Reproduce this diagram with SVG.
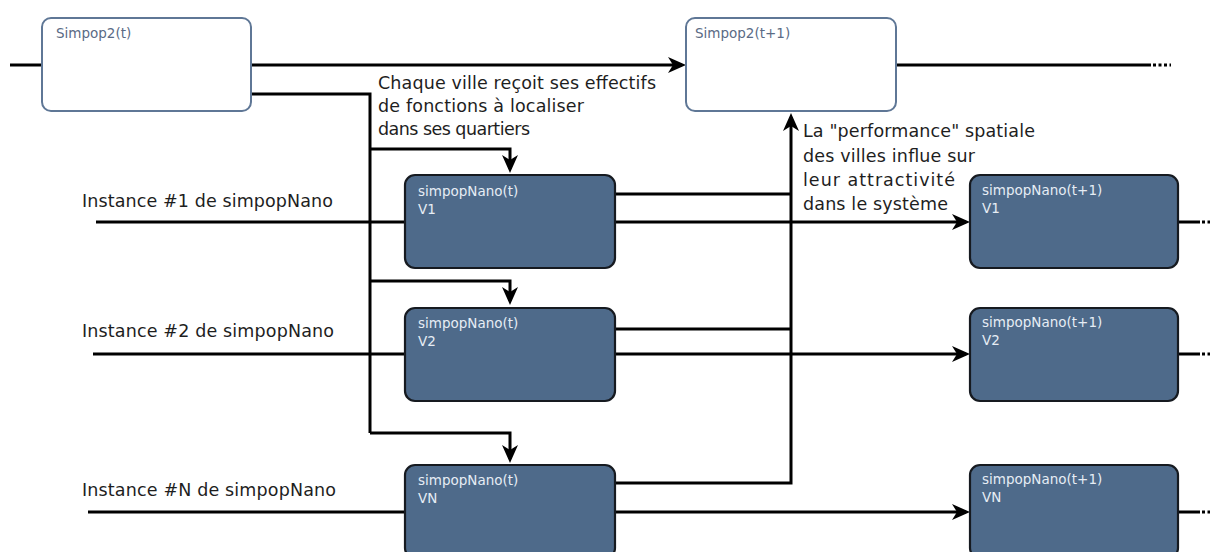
<svg xmlns="http://www.w3.org/2000/svg" width="1210" height="552" viewBox="0 0 1210 552">
<style>
.wbox{fill:#ffffff;stroke:#5f7796;stroke-width:2}
.dbox{fill:#4e6a8a;stroke:#161a20;stroke-width:2.2}
.wlbl{font-family:"DejaVu Sans",sans-serif;font-size:13.5px;fill:#5a6b85}
.dlbl{font-family:"DejaVu Sans",sans-serif;font-size:13.5px;fill:#e6edf5}
.txt{font-family:"DejaVu Sans",sans-serif;font-size:17.5px;fill:#1e1e1e}
.ln{fill:none;stroke:#000;stroke-width:3}
.dots{fill:none;stroke:#000;stroke-width:3;stroke-dasharray:3 2.5}
</style>
<defs>
<marker id="ah" markerUnits="userSpaceOnUse" viewBox="0 0 18 16" refX="14" refY="8" markerWidth="18" markerHeight="16" orient="auto">
<path d="M0,0 L18,8 L0,16 L5,8 z" fill="#000"/>
</marker>
</defs>
<rect width="1210" height="552" fill="#fff"/>

<g id="connectors">
<path class="ln" d="M10,65 H42"/>
<path class="ln" d="M251,65 H682" marker-end="url(#ah)"/>
<path class="ln" d="M896,65 H1151"/>
<path class="dots" d="M1153,65 H1171"/>
<path class="ln" d="M251,94 H370 V433"/>
<path class="ln" d="M370,149 H510 V169" marker-end="url(#ah)"/>
<path class="ln" d="M370,281 H510 V301" marker-end="url(#ah)"/>
<path class="ln" d="M370,433 H510 V459" marker-end="url(#ah)"/>
<path class="ln" d="M96,222 H405"/>
<path class="ln" d="M93,354 H405"/>
<path class="ln" d="M88,512 H405"/>
<path class="ln" d="M615,194 H791"/>
<path class="ln" d="M615,329 H791"/>
<path class="ln" d="M615,483 H791 V117" marker-end="url(#ah)"/>
<path class="ln" d="M615,222 H966" marker-end="url(#ah)"/>
<path class="ln" d="M615,354 H966" marker-end="url(#ah)"/>
<path class="ln" d="M615,512 H966" marker-end="url(#ah)"/>
<path class="ln" d="M1178,222 H1200"/>
<path class="dots" d="M1202,222 H1210"/>
<path class="ln" d="M1178,354 H1200"/>
<path class="dots" d="M1202,354 H1210"/>
<path class="ln" d="M1178,512 H1200"/>
<path class="dots" d="M1202,512 H1210"/>
</g>

<g id="simpop2-t">
<rect class="wbox" x="42" y="18" width="209" height="93" rx="9"/>
<text class="wlbl" x="56" y="38">Simpop2(t)</text>
</g>
<g id="simpop2-t1">
<rect class="wbox" x="686" y="18" width="210" height="93" rx="9"/>
<text class="wlbl" x="695" y="38">Simpop2(t+1)</text>
</g>

<g id="nano-t-v1">
<rect class="dbox" x="405" y="175" width="210" height="93" rx="10"/>
<text class="dlbl" x="418" y="196">simpopNano(t)</text>
<text class="dlbl" x="418" y="214">V1</text>
</g>
<g id="nano-t-v2">
<rect class="dbox" x="405" y="308" width="210" height="93" rx="10"/>
<text class="dlbl" x="418" y="328">simpopNano(t)</text>
<text class="dlbl" x="418" y="346">V2</text>
</g>
<g id="nano-t-vn">
<rect class="dbox" x="405" y="465" width="210" height="93" rx="10"/>
<text class="dlbl" x="418" y="485">simpopNano(t)</text>
<text class="dlbl" x="418" y="503">VN</text>
</g>

<g id="nano-t1-v1">
<rect class="dbox" x="970" y="175" width="208" height="93" rx="10"/>
<text class="dlbl" x="982" y="195">simpopNano(t+1)</text>
<text class="dlbl" x="982" y="213">V1</text>
</g>
<g id="nano-t1-v2">
<rect class="dbox" x="970" y="308" width="208" height="93" rx="10"/>
<text class="dlbl" x="982" y="327">simpopNano(t+1)</text>
<text class="dlbl" x="982" y="345">V2</text>
</g>
<g id="nano-t1-vn">
<rect class="dbox" x="970" y="465" width="208" height="93" rx="10"/>
<text class="dlbl" x="982" y="484">simpopNano(t+1)</text>
<text class="dlbl" x="982" y="502">VN</text>
</g>

<g id="labels">
<text class="txt" x="82" y="207" textLength="251">Instance #1 de simpopNano</text>
<text class="txt" x="82" y="337" textLength="252">Instance #2 de simpopNano</text>
<text class="txt" x="82" y="496" textLength="254">Instance #N de simpopNano</text>
<text class="txt" x="378" y="89" textLength="278">Chaque ville reçoit ses effectifs</text>
<text class="txt" x="378" y="112" textLength="206">de fonctions à localiser</text>
<text class="txt" x="378" y="135" textLength="152">dans ses quartiers</text>
<text class="txt" x="803" y="137" textLength="232">La "performance" spatiale</text>
<text class="txt" x="803" y="162" textLength="172">des villes influe sur</text>
<text class="txt" x="803" y="186" textLength="152">leur attractivité</text>
<text class="txt" x="803" y="210" textLength="145">dans le système</text>
</g>
</svg>
